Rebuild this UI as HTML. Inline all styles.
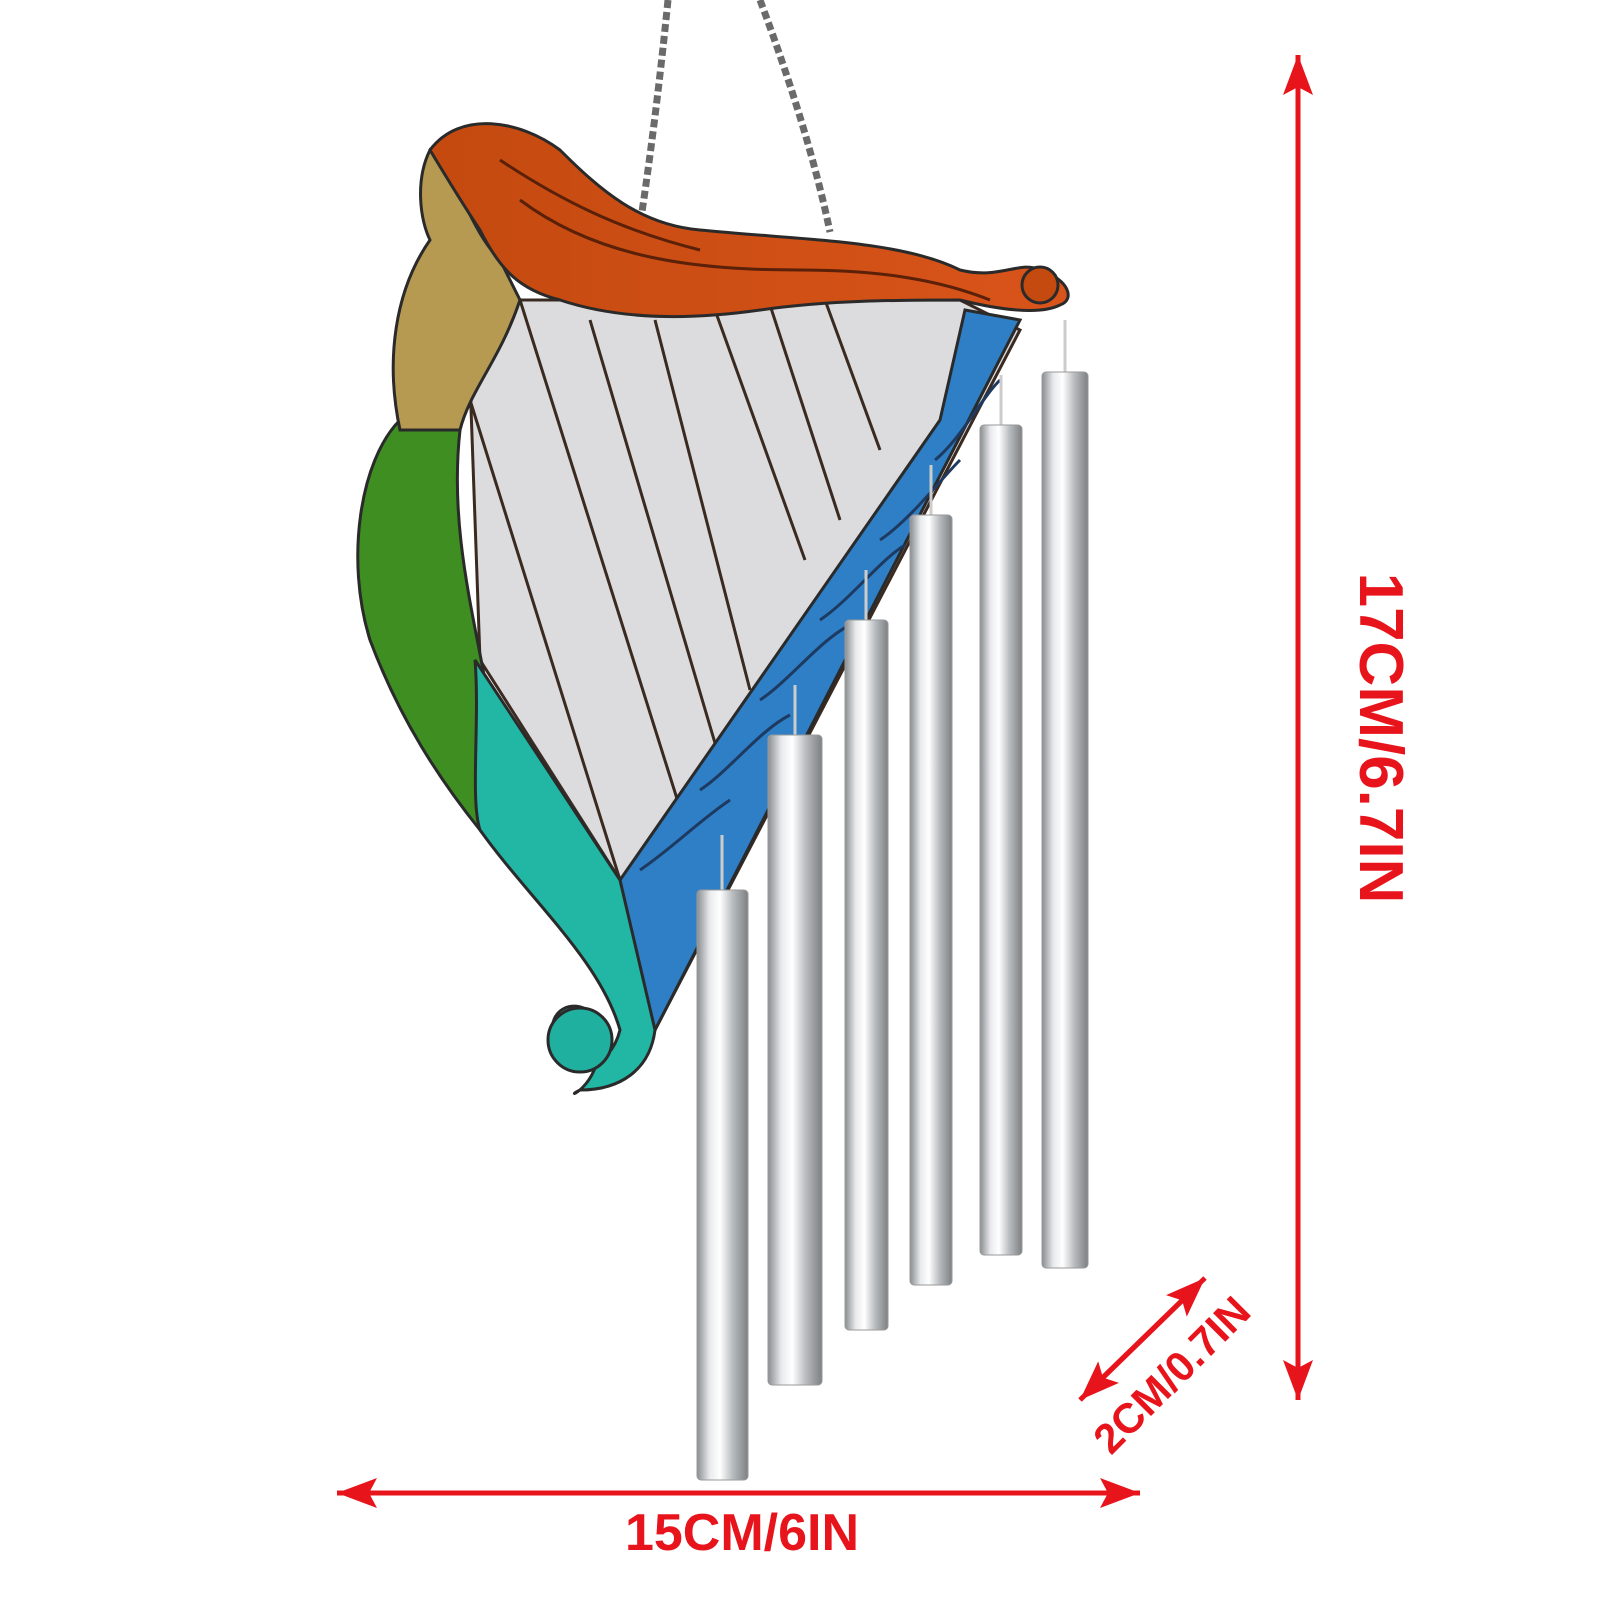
<!DOCTYPE html>
<html><head><meta charset="utf-8"><style>
html,body{margin:0;padding:0;background:#fff;width:1600px;height:1600px;overflow:hidden}
svg{display:block}
</style></head><body>
<svg width="1600" height="1600" viewBox="0 0 1600 1600" xmlns="http://www.w3.org/2000/svg">
<defs>
<linearGradient id="tube" x1="0" x2="1" y1="0" y2="0">
<stop offset="0" stop-color="#8a8d90"/><stop offset="0.25" stop-color="#e8eaec"/><stop offset="0.45" stop-color="#ffffff"/><stop offset="0.7" stop-color="#b9bcbf"/><stop offset="1" stop-color="#7d8083"/>
</linearGradient>
<linearGradient id="hair" x1="0" x2="1"><stop offset="0" stop-color="#c44a10"/><stop offset="1" stop-color="#d9541a"/></linearGradient>
<marker id="ah" markerWidth="40" markerHeight="30" refX="10" refY="5" orient="auto" markerUnits="userSpaceOnUse" viewBox="0 0 10 10" preserveAspectRatio="none"><path d="M0,0 L10,5 L0,10 L2,5 z" fill="#e8141c"/></marker>
</defs>
<!-- chains -->
<path d="M668,0 C660,80 650,160 640,225" stroke="#6a6a6a" stroke-width="7" fill="none" stroke-dasharray="8,4"/>
<path d="M760,0 C790,80 815,160 830,232" stroke="#6a6a6a" stroke-width="7" fill="none" stroke-dasharray="8,4"/>
<!-- clear glass -->
<path d="M470,380 L520,300 L960,300 L1020,330 L655,1030 L620,880 L480,660 Z" fill="#dcdcdf" stroke="#3a2a20" stroke-width="3"/>
<g stroke="#3a2a20" stroke-width="3">
<line x1="470" y1="400" x2="620" y2="880"/><line x1="520" y1="300" x2="690" y2="840"/>
<line x1="590" y1="320" x2="720" y2="760"/><line x1="655" y1="320" x2="750" y2="690"/>
<line x1="715" y1="310" x2="805" y2="560"/><line x1="770" y1="305" x2="840" y2="520"/>
<line x1="825" y1="300" x2="880" y2="450"/>
</g>
<!-- blue band -->
<path d="M1020,320 L965,310 L940,420 L620,880 L620,890 L655,1030 Z" fill="#2f7fc6" stroke="#2a2a2a" stroke-width="3"/>
<g stroke="#1e3a60" stroke-width="3" fill="none">
<path d="M935,460 C960,440 980,400 1000,380"/><path d="M880,540 C910,520 940,480 960,460"/>
<path d="M820,620 C850,600 880,560 905,545"/><path d="M760,700 C790,680 820,640 850,625"/>
<path d="M700,790 C730,770 760,730 790,715"/><path d="M640,870 C670,850 700,820 730,800"/>
</g>
<!-- green body -->
<path d="M400,420 C360,460 345,560 370,640 C400,720 440,780 480,830 L485,680 C470,600 450,520 460,430 Z" fill="#3e8e22" stroke="#2a2a2a" stroke-width="3"/>
<!-- teal -->
<path d="M475,660 C480,720 470,800 480,830 C530,900 600,960 620,1030 C610,1070 570,1080 555,1040 C540,1000 600,990 600,1040 C600,1090 560,1100 580,1090 C620,1090 650,1070 655,1030 L620,880 Z" fill="#22b6a4" stroke="#2a2a2a" stroke-width="3"/>
<circle cx="580" cy="1040" r="32" fill="#1fb0a0" stroke="#2a2a2a" stroke-width="3"/>
<!-- face/body tan -->
<path d="M430,150 C415,180 420,220 430,240 C395,290 385,360 400,430 L460,430 C470,390 500,360 520,300 L500,260 C470,230 460,180 430,150 Z" fill="#b79a52" stroke="#2a2a2a" stroke-width="3"/>
<!-- hair -->
<path d="M430,150 C460,110 520,120 560,150 C600,190 640,225 700,230 C800,240 900,240 960,270 C1000,280 1020,260 1040,270 C1070,280 1075,300 1060,305 C1040,315 1000,310 960,300 C900,300 830,300 760,310 C690,320 620,320 560,300 C520,290 500,270 480,230 C460,200 445,175 430,150 Z" fill="url(#hair)" stroke="#2a2a2a" stroke-width="3"/>
<g stroke="#5a2008" stroke-width="3" fill="none">
<path d="M520,200 C600,260 700,270 800,270 C880,270 940,280 990,300"/>
<path d="M500,160 C560,200 620,230 700,250"/>
</g>
<circle cx="1040" cy="285" r="18" fill="#c44a10" stroke="#2a2a2a" stroke-width="3"/>
<!-- chime strings -->
<g stroke="#ccc" stroke-width="3" fill="none">
<path d="M722,835 L722,890"/><path d="M795,685 L795,735"/><path d="M866,570 L866,620"/>
<path d="M931,465 L931,515"/><path d="M1001,375 L1001,425"/><path d="M1065,320 L1065,372"/>
</g>
<!-- tubes -->
<g fill="url(#tube)" stroke="#9a9a9a" stroke-width="1">
<rect x="697" y="890" width="51" height="590" rx="4"/>
<rect x="768" y="735" width="54" height="650" rx="4"/>
<rect x="845" y="620" width="43" height="710" rx="4"/>
<rect x="910" y="515" width="42" height="770" rx="4"/>
<rect x="980" y="425" width="42" height="830" rx="4"/>
<rect x="1042" y="372" width="46" height="896" rx="4"/>
</g>
<!-- arrows -->
<g stroke="#e8141c" stroke-width="5" fill="none">
<line x1="1298" y1="90" x2="1298" y2="1400" marker-end="url(#ah)"/>
<line x1="1298" y1="1370" x2="1298" y2="55" marker-end="url(#ah)"/>
<line x1="370" y1="1493" x2="1140" y2="1493" marker-end="url(#ah)"/>
<line x1="1110" y1="1493" x2="337" y2="1493" marker-end="url(#ah)"/>
<line x1="1095" y1="1385" x2="1205" y2="1278" marker-end="url(#ah)"/>
<line x1="1190" y1="1293" x2="1080" y2="1400" marker-end="url(#ah)"/>
</g>
<g fill="#e8141c" font-family="Liberation Sans, sans-serif" font-weight="bold">
<text x="0" y="0" font-size="62" transform="translate(1360,738) rotate(90)" text-anchor="middle">17CM/6.7IN</text>
<text x="742" y="1550" font-size="52" text-anchor="middle">15CM/6IN</text>
<text x="0" y="0" font-size="42" transform="translate(1182,1385) rotate(-45)" text-anchor="middle">2CM/0.7IN</text>
</g>
</svg>
</body></html>
